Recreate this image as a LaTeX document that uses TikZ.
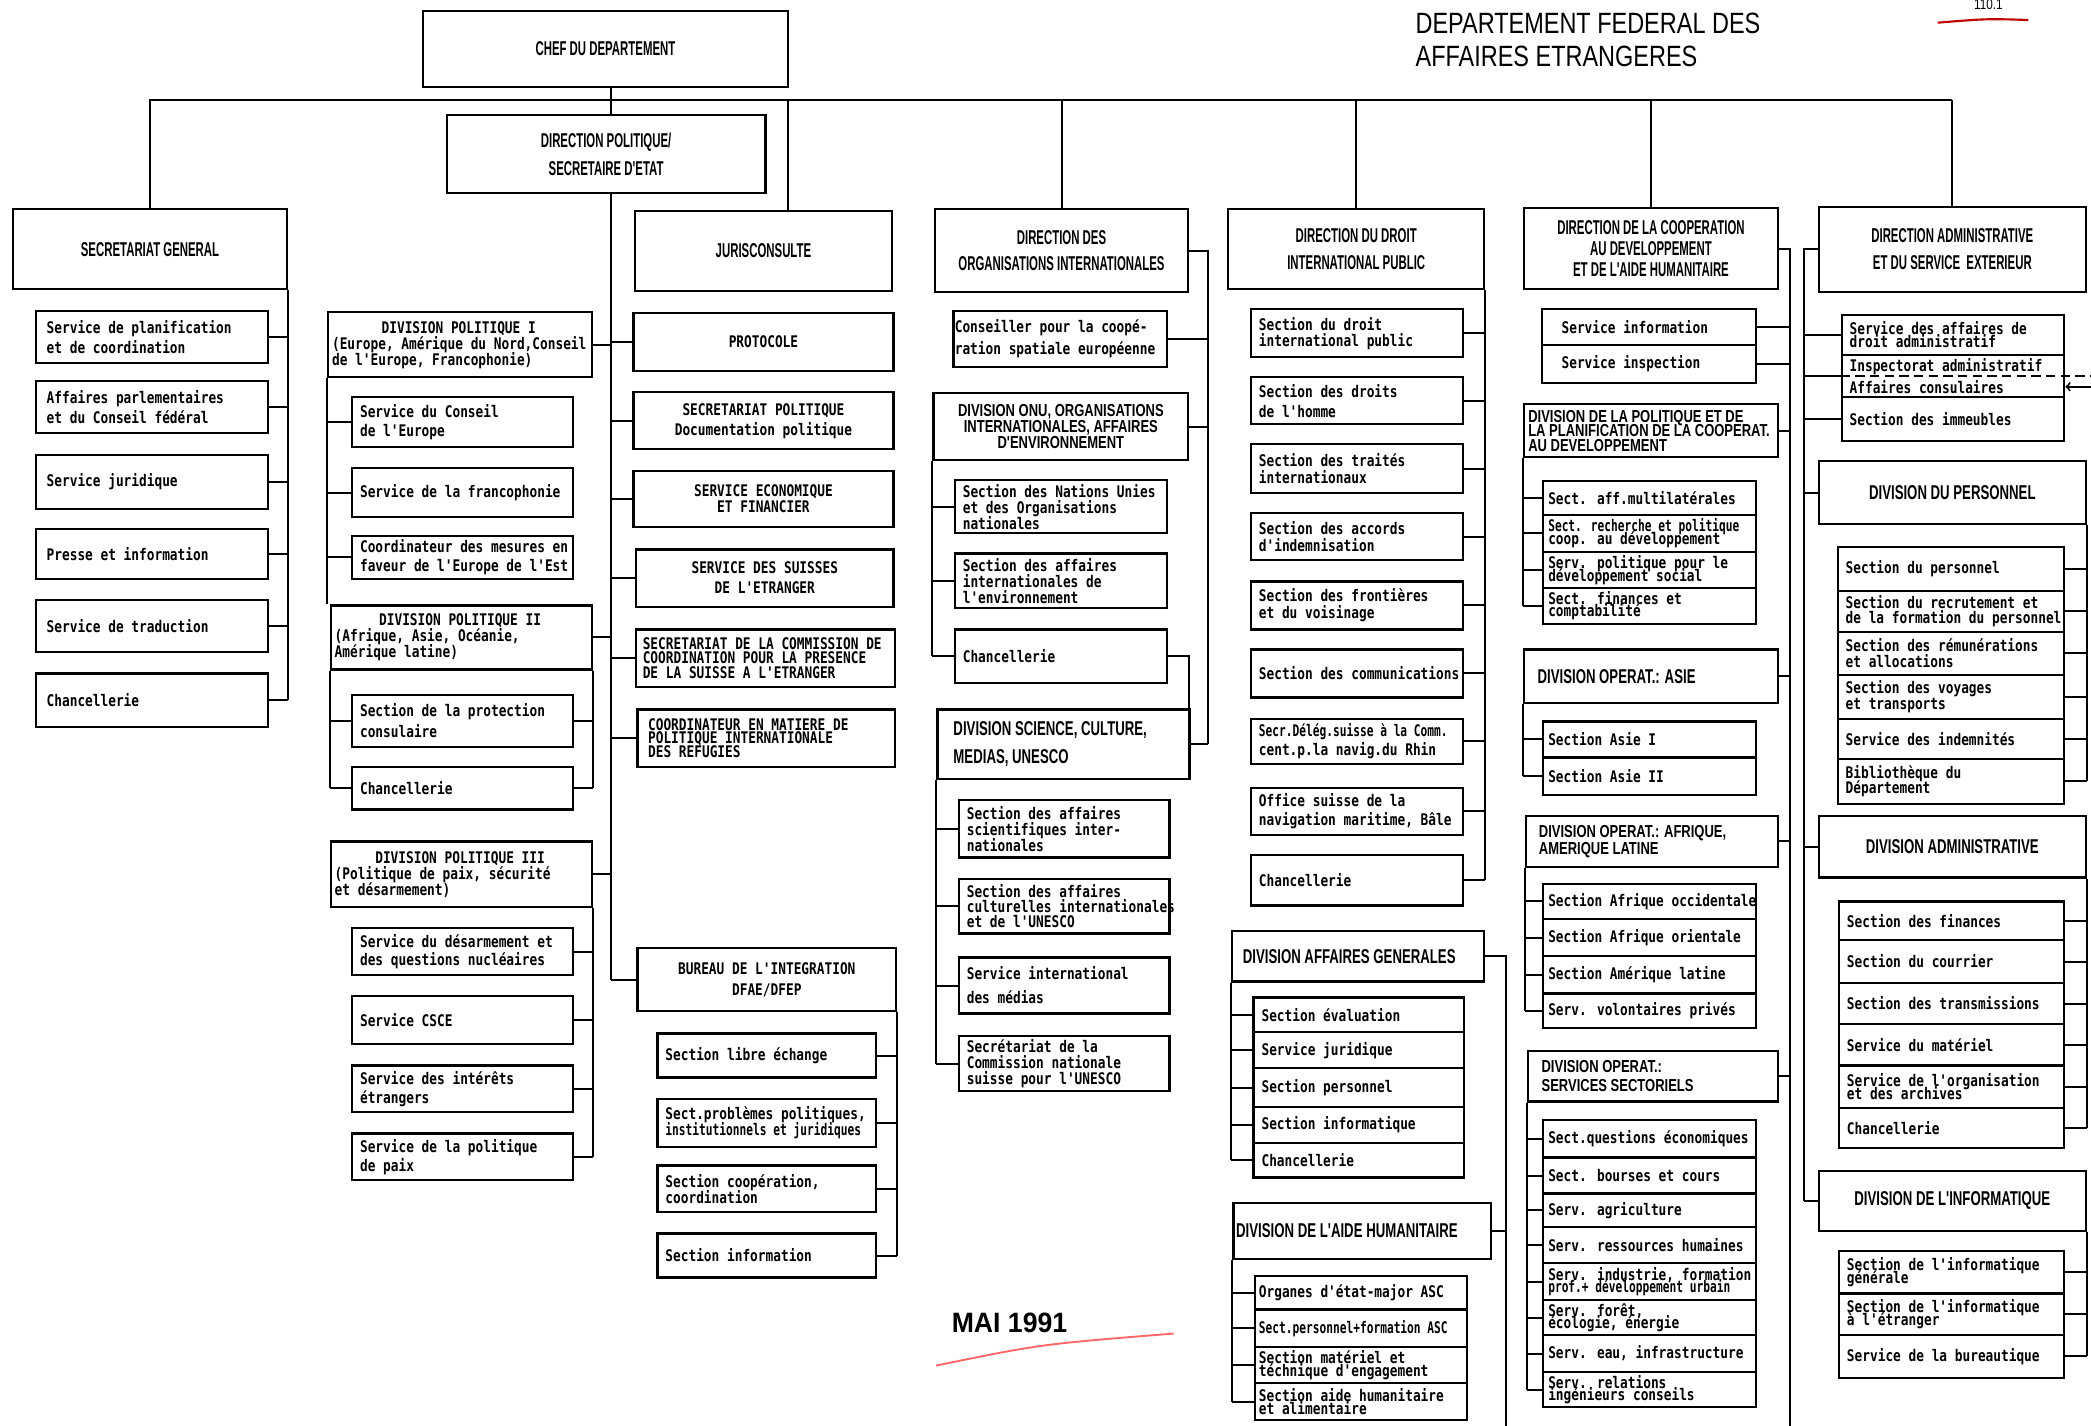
\documentclass[tikz,border=0pt]{standalone}
\usepackage{fontspec}
\newfontfamily\monof[FakeStretch=0.80]{DejaVu Sans Mono}
\newfontfamily\monon[FakeStretch=0.70]{DejaVu Sans Mono}
\newfontfamily\capsf[FakeStretch=0.57]{Liberation Sans}
\newfontfamily\divf[FakeStretch=0.66]{Liberation Sans}
\newfontfamily\capsw[FakeStretch=0.75]{Liberation Sans}
\newfontfamily\titlef[FakeStretch=0.80]{Liberation Sans}
\newfontfamily\datef[FakeStretch=0.95]{Liberation Sans}
\tikzset{
  unit/.style={draw, line width=1.6pt, rectangle, inner sep=0pt, lft, mono},
  lft/.code={\def\bxal{l}\def\bxset{\raggedright}\def\bxpre{\hspace*{6pt}}},
  ctr/.code={\def\bxal{c}\def\bxset{\centering}\def\bxpre{}},
  lpad/.code={\def\bxpre{\hspace*{#1pt}}},
  mono/.style={font=\monof\bfseries\fontsize{12}{#1}\selectfont},
  mono/.default=14,
  caps/.style={font=\capsf\bfseries\fontsize{15}{#1}\selectfont},
  caps/.default=20,
  divh/.style={font=\divf\bfseries\fontsize{15}{#1}\selectfont},
  divh/.default=20,
  capsm/.style={font=\capsw\bfseries\fontsize{13}{#1}\selectfont},
  capsm/.default=11,
  link/.style={line width=1.5pt},
}
\newcommand\boxtext[1]{\makebox[\bw pt][\bxal]{\bxpre\parbox[c]{330pt}{\bxset\lineskiplimit=-30pt #1}}}
\newcommand\ctrline[1]{\makebox[\dimexpr\bw pt-8pt\relax]{#1}}
\newcommand\bx[7][]{%
  \pgfmathsetmacro\bw{#5-#3}\pgfmathsetmacro\bh{#6-#4}%
  \node[unit,#1,minimum width=\bw pt,minimum height=\bh pt] (#2) at ({(#3+#5)/2},{(#4+#6)/2}) {\boxtext{#7}};}

\begin{document}
\begin{tikzpicture}[x=1pt,y=-1pt]
  \useasboundingbox[fill=white] (0,0) rectangle (1568,1069);
  \node[font=\titlef\fontsize{22}{25}\selectfont, anchor=west, align=left] (title) at (1058,30) {DEPARTEMENT FEDERAL DES\\AFFAIRES ETRANGERES};
  \node[font=\titlef\fontsize{11}{11}\selectfont] (folio) at (1491,3) {110.1};
  \node[font=\datef\bfseries\fontsize{21}{24}\selectfont] (date) at (757,992) {MAI 1991};
  \draw[red!75!black, line width=1.6pt] (1453,17) .. controls (1490,14) .. (1521,15);
  \draw[red!60, line width=1.4pt] (702,1024) .. controls (780,1008) .. (880,1000);

  \bx[caps,ctr]{chef}{317}{8}{591}{65}{CHEF DU DEPARTEMENT}
  \bx[caps=21,ctr]{dp}{335}{86}{574}{145}{DIRECTION POLITIQUE/\\SECRETAIRE D'ETAT}
  \bx[caps,ctr]{sg}{10}{157}{215}{217}{SECRETARIAT GENERAL}
  \bx[caps,ctr]{juris}{476}{158}{669}{218}{JURISCONSULTE}
  \bx[caps,ctr]{org}{701}{157}{891}{219}{DIRECTION DES\\ORGANISATIONS INTERNATIONALES}
  \bx[caps,ctr]{droit}{921}{157}{1113}{217}{DIRECTION DU DROIT\\INTERNATIONAL PUBLIC}
  \bx[caps=16,ctr]{coop}{1143}{156}{1333}{217}{DIRECTION DE LA COOPERATION\\AU DEVELOPPEMENT\\ET DE L'AIDE HUMANITAIRE}
  \bx[caps,ctr]{admin}{1364}{155}{1564}{219}{DIRECTION ADMINISTRATIVE\\ET DU SERVICE\ \ EXTERIEUR}

  \bx[lpad=8,mono=15]{sg1}{27}{233}{201}{272}{Service de planification\\et de coordination}
  \bx[lpad=8,mono=15]{sg2}{27}{286}{201}{325}{Affaires parlementaires\\et du Conseil fédéral}
  \bx[lpad=8]{sg3}{27}{341}{201}{382}{Service juridique}
  \bx[lpad=8]{sg4}{27}{397}{201}{434}{Presse et information}
  \bx[lpad=8]{sg5}{27}{450}{201}{489}{Service de traduction}
  \bx[lpad=8]{sg6}{27}{505}{201}{545}{Chancellerie}

  \bx[mono=12,lpad=3]{dp1}{246}{234}{444}{283}{\ctrline{DIVISION POLITIQUE I}\\(Europe, Amérique du Nord,Conseil\\de l'Europe, Francophonie)}
  \bx{dp1a}{264}{298}{430}{335}{Service du Conseil\\de l'Europe}
  \bx{dp1b}{264}{351}{430}{388}{Service de la francophonie}
  \bx{dp1c}{264}{402}{430}{434}{Coordinateur des mesures en\\faveur de l'Europe de l'Est}
  \bx[mono=12,lpad=3]{dp2}{248}{454}{444}{502}{\ctrline{DIVISION POLITIQUE II}\\(Afrique, Asie, Océanie,\\Amérique latine)}
  \bx[mono=16]{dp2a}{264}{521}{430}{560}{Section de la protection\\consulaire}
  \bx{dp2b}{264}{575}{430}{607}{Chancellerie}
  \bx[mono=12,lpad=3]{dp3}{248}{631}{444}{680}{\ctrline{DIVISION POLITIQUE III}\\(Politique de paix, sécurité\\et désarmement)}
  \bx{dp3a}{264}{696}{430}{731}{Service du désarmement et\\des questions nucléaires}
  \bx{dp3b}{264}{747}{430}{783}{Service CSCE}
  \bx{dp3c}{264}{799}{430}{834}{Service des intérêts\\étrangers}
  \bx{dp3d}{264}{850}{430}{885}{Service de la politique\\de paix}

  \bx[ctr]{proto}{475}{235}{670}{278}{PROTOCOLE}
  \bx[ctr,mono=15]{secpol}{475}{294}{670}{337}{SECRETARIAT POLITIQUE\\Documentation politique}
  \bx[ctr,mono=12]{seco}{475}{353}{670}{395}{SERVICE ECONOMIQUE\\ET FINANCIER}
  \bx[ctr,mono=15]{suisses}{477}{412}{670}{455}{SERVICE DES SUISSES\\DE L'ETRANGER}
  \bx[mono=11,lpad=5]{comm}{477}{472}{671}{515}{SECRETARIAT DE LA COMMISSION DE\\COORDINATION POUR LA PRESENCE\\DE LA SUISSE A L'ETRANGER}
  \bx[mono=10,lpad=8]{refug}{478}{532}{671}{575}{COORDINATEUR EN MATIERE DE\\POLITIQUE INTERNATIONALE\\DES REFUGIES}
  \bx[ctr,mono=16]{bureau}{478}{711}{672}{758}{BUREAU DE L'INTEGRATION\\DFAE/DFEP}
  \bx{bu1}{493}{775}{657}{808}{Section libre échange}
  \bx[mono=12]{bu2}{493}{824}{657}{860}{Sect.problèmes politiques,\\{\monon institutionnels et juridiques}}
  \bx[mono=12]{bu3}{493}{874}{657}{909}{Section coopération,\\coordination}
  \bx{bu4}{493}{925}{657}{958}{Section information}

  \bx[lpad=1,mono=17]{cons}{715}{233}{875}{275}{Conseiller pour la coopé-\\ration spatiale européenne}
  \bx[capsm=12,ctr]{onu}{700}{295}{891}{345}{DIVISION ONU, ORGANISATIONS\\INTERNATIONALES, AFFAIRES\\D'ENVIRONNEMENT}
  \bx[mono=12]{onu1}{716}{360}{875}{400}{Section des Nations Unies\\et des Organisations\\nationales}
  \bx[mono=12]{onu2}{716}{415}{875}{456}{Section des affaires\\internationales de\\l'environnement}
  \bx{onu3}{716}{472}{875}{512}{Chancellerie}
  \bx[divh=21,lpad=12]{sci}{703}{532}{892}{584}{DIVISION SCIENCE, CULTURE,\\MEDIAS, UNESCO}
  \bx[mono=12]{sci1}{719}{600}{877}{643}{Section des affaires\\scientifiques inter-\\nationales}
  \bx[mono=11]{sci2}{719}{659}{877}{700}{Section des affaires\\culturelles internationales\\et de l'UNESCO}
  \bx[mono=18]{sci3}{719}{718}{877}{760}{Service international\\des médias}
  \bx[mono=12]{sci4}{719}{777}{877}{818}{Secrétariat de la\\Commission nationale\\suisse pour l'UNESCO}

  \bx[mono=12]{dr1}{938}{232}{1097}{268}{Section du droit\\international public}
  \bx[mono=15]{dr2}{938}{283}{1097}{318}{Section des droits\\de l'homme}
  \bx[mono=13]{dr3}{938}{333}{1097}{370}{Section des traités\\internationaux}
  \bx[mono=13]{dr4}{938}{385}{1097}{420}{Section des accords\\d'indemnisation}
  \bx[mono=13]{dr5}{938}{436}{1097}{472}{Section des frontières\\et du voisinage}
  \bx{dr6}{938}{487}{1097}{523}{Section des communications}
  \bx{dr7}{938}{539}{1097}{573}{{\monon Secr.Délég.suisse à la Comm.}\\cent.p.la navig.du Rhin}
  \bx{dr8}{938}{591}{1097}{626}{Office suisse de la\\navigation maritime, Bâle}
  \bx{dr9}{938}{641}{1097}{679}{Chancellerie}

  \bx[divh,lpad=8]{dag}{924}{698}{1113}{736}{DIVISION AFFAIRES GENERALES}
  \bx{dg1}{940}{748}{1098}{774}{Section évaluation}
  \bx{dg2}{940}{774}{1098}{801}{Service juridique}
  \bx{dg3}{940}{801}{1098}{830}{Section personnel}
  \bx{dg4}{940}{830}{1098}{857}{Section informatique}
  \bx{dg5}{940}{857}{1098}{883}{Chancellerie}
  \bx[divh,lpad=2]{dah}{925}{902}{1118}{944}{DIVISION DE L'AIDE HUMANITAIRE}
  \bx[lpad=3]{dh1}{941}{957}{1100}{982}{Organes d'état-major ASC}
  \bx[lpad=3]{dh2}{941}{982}{1100}{1010}{{\monon Sect.personnel+formation ASC}}
  \bx[lpad=3,mono=10]{dh3}{941}{1010}{1100}{1037}{Section matériel et\\téchnique d'engagement}
  \bx[lpad=3,mono=10]{dh4}{941}{1037}{1100}{1065}{Section aide humanitaire\\et alimentaire}

  \bx[lpad=15]{ci1}{1156}{232}{1317}{259}{Service information}
  \bx[lpad=15]{ci2}{1156}{259}{1317}{287}{Service inspection}
  \bx[capsm=11,lpad=3]{plan}{1143}{303}{1333}{343}{DIVISION DE LA POLITIQUE ET DE\\LA PLANIFICATION DE LA COOPERAT.\\AU DEVELOPPEMENT}
  \bx[lpad=4]{pl1}{1157}{361}{1317}{386}{Sect. aff.multilatérales}
  \bx[lpad=4,mono=10]{pl2}{1157}{386}{1317}{414}{{\monon Sect. recherche et politique}\\coop. au développement}
  \bx[lpad=4,mono=10]{pl3}{1157}{414}{1317}{441}{Serv. politique pour le\\développement social}
  \bx[lpad=4,mono=9]{pl4}{1157}{441}{1317}{468}{Sect. finances et\\comptabilité}
  \bx[divh,lpad=10]{asie}{1143}{487}{1333}{527}{DIVISION OPERAT.: ASIE}
  \bx[lpad=4]{as1}{1157}{541}{1317}{568}{Section Asie I}
  \bx[lpad=4]{as2}{1157}{568}{1317}{596}{Section Asie II}
  \bx[capsm=13,lpad=10]{afr}{1144}{612}{1333}{650}{DIVISION OPERAT.: AFRIQUE,\\AMERIQUE LATINE}
  \bx[lpad=4]{af1}{1157}{663}{1317}{689}{Section Afrique occidentale}
  \bx[lpad=4]{af2}{1157}{689}{1317}{717}{Section Afrique orientale}
  \bx[lpad=4]{af3}{1157}{717}{1317}{745}{Section Amérique latine}
  \bx[lpad=4]{af4}{1157}{745}{1317}{771}{Serv. volontaires privés}
  \bx[capsm=14,lpad=10]{sect}{1146}{788}{1333}{826}{DIVISION OPERAT.:\\SERVICES SECTORIELS}
  \bx[lpad=4]{se1}{1157}{840}{1317}{868}{Sect.questions économiques}
  \bx[lpad=4]{se2}{1157}{868}{1317}{895}{Sect. bourses et cours}
  \bx[lpad=4]{se3}{1157}{895}{1317}{920}{Serv. agriculture}
  \bx[lpad=4]{se4}{1157}{920}{1317}{947}{Serv. ressources humaines}
  \bx[lpad=4,mono=9]{se5}{1157}{947}{1317}{975}{Serv. industrie, formation\\{\monon prof.+ développement urbain}}
  \bx[lpad=4,mono=9]{se6}{1157}{975}{1317}{1001}{Serv. forêt,\\écologie, énergie}
  \bx[lpad=4]{se7}{1157}{1001}{1317}{1029}{Serv. eau, infrastructure}
  \bx[lpad=4,mono=9]{se8}{1157}{1029}{1317}{1055}{Serv. relations\\ingénieurs conseils}

  \bx[mono=10]{ad1}{1381}{236}{1548}{266}{Service des affaires de\\droit administratif}
  \bx[mono=16]{ad2}{1381}{266}{1548}{298}{Inspectorat administratif\\Affaires consulaires}
  \bx{ad3}{1381}{298}{1548}{331}{Section des immeubles}
  \bx[divh,ctr]{pers}{1364}{346}{1564}{393}{DIVISION DU PERSONNEL}
  \bx{pe1}{1378}{410}{1548}{443}{Section du personnel}
  \bx[mono=11]{pe2}{1378}{443}{1548}{474}{Section du recrutement et\\de la formation du personnel}
  \bx[mono=12]{pe3}{1378}{474}{1548}{506}{Section des rémunérations\\et allocations}
  \bx[mono=12]{pe4}{1378}{506}{1548}{539}{Section des voyages\\et transports}
  \bx{pe5}{1378}{539}{1548}{569}{Service des indemnités}
  \bx[mono=11]{pe6}{1378}{569}{1548}{603}{Bibliothèque du\\Département}
  \bx[divh,ctr]{dadm}{1364}{612}{1564}{658}{DIVISION ADMINISTRATIVE}
  \bx{da1}{1379}{676}{1548}{705}{Section des finances}
  \bx{da2}{1379}{705}{1548}{737}{Section du courrier}
  \bx{da3}{1379}{737}{1548}{768}{Section des transmissions}
  \bx{da4}{1379}{768}{1548}{799}{Service du matériel}
  \bx[mono=10]{da5}{1379}{799}{1548}{831}{Service de l'organisation\\et des archives}
  \bx{da6}{1379}{831}{1548}{861}{Chancellerie}
  \bx[divh,ctr]{dinf}{1364}{878}{1564}{923}{DIVISION DE L'INFORMATIQUE}
  \bx[mono=10]{di1}{1379}{938}{1548}{970}{Section de l'informatique\\générale}
  \bx[mono=10]{di2}{1379}{970}{1548}{1001}{Section de l'informatique\\à l'étranger}
  \bx{di3}{1379}{1001}{1548}{1033}{Service de la bureautique}

  \coordinate (mainL) at (112,75);
  \coordinate (mainR) at (1464,75);
  \coordinate (dpx) at (458,75);
  \coordinate (jx) at (591,75);
  \coordinate (ox) at (906,0);
  \coordinate (dgx) at (1129,1069);
  \coordinate (cpx) at (1342,1069);
  \coordinate (ax) at (1353,0);
  \coordinate (arr) at (1568,290);

  \begin{scope}[link]
    \draw (mainL) -- (mainR);
    \draw (sg.north) -- (sg.north |- mainL);
    \draw (chef.south -| dpx) -- (dp.north -| dpx);
    \draw (jx) -- (jx |- juris.north);
    \foreach \n in {org,droit,coop,admin} \draw (\n.north) -- (\n.north |- mainL);

    \draw (sg.south east) -- (sg.south east |- sg6.east);
    \foreach \i in {1,...,6} \draw (sg\i.east) -- (sg\i.east -| sg.south east);

    \draw (dp.south -| dpx) -- (bureau.west -| dpx);
    \foreach \n in {proto,secpol,seco,suisses,comm,refug,bureau} \draw (\n.west) -- (\n.west -| dpx);
    \foreach \n in {dp1,dp2,dp3} \draw (\n.east) -- (\n.east -| dpx);
    \draw (dp1.south west) -- (dp1.south west |- dp2.north);
    \foreach \n in {dp1a,dp1b,dp1c} \draw (\n.west) -- (\n.west -| dp1.south west);
    \draw (dp2.south west) -- (dp2.south west |- dp2b.west);
    \draw (dp2.south east) -- (dp2.south east |- dp2b.east);
    \foreach \n in {dp2a,dp2b} \draw (\n.west -| dp2.south west) -- (\n.west) (\n.east) -- (\n.east -| dp2.south east);
    \draw (dp3.south east) -- (dp3.south east |- dp3d.east);
    \foreach \n in {dp3a,dp3b,dp3c,dp3d} \draw (\n.east) -- (\n.east -| dp3.south east);
    \draw (bureau.south east) -- (bureau.south east |- bu4.east);
    \foreach \i in {1,...,4} \draw (bu\i.east) -- (bu\i.east -| bureau.south east);

    \draw (org.east) -- (org.east -| ox) -- (sci.east -| ox);
    \foreach \n in {cons,onu,sci} \draw (\n.east) -- (\n.east -| ox);
    \draw (onu.south west) -- (onu.south west |- onu3.west);
    \foreach \i in {1,2,3} \draw (onu\i.west) -- (onu\i.west -| onu.south west);
    \draw (onu3.east) -- (onu3.east -| onu.east) -- (sci.north -| onu.east);
    \draw (sci.south west) -- (sci.south west |- sci4.west);
    \foreach \i in {1,...,4} \draw (sci\i.west) -- (sci\i.west -| sci.south west);

    \draw (droit.south east) -- (droit.south east |- dr9.east);
    \foreach \i in {1,...,9} \draw (dr\i.east) -- (dr\i.east -| droit.south east);
    \draw (dag.east) -- (dag.east -| dgx) -- (dgx);
    \draw (dah.east) -- (dah.east -| dgx);
    \draw (dag.south west) -- (dag.south west |- dg5.west);
    \foreach \i in {1,...,5} \draw (dg\i.west) -- (dg\i.west -| dag.south west);
    \draw (dah.south west) -- (dah.south west |- dh4.west);
    \foreach \i in {1,...,4} \draw (dh\i.west) -- (dh\i.west -| dah.south west);

    \draw (coop.east) -- (coop.east -| cpx) -- (cpx);
    \foreach \n in {ci1,ci2,plan,asie,afr,sect} \draw (\n.east) -- (\n.east -| cpx);
    \draw (plan.south west) -- (plan.south west |- pl4.west);
    \foreach \i in {1,...,4} \draw (pl\i.west) -- (pl\i.west -| plan.south west);
    \draw (asie.south west) -- (asie.south west |- as2.west);
    \foreach \i in {1,2} \draw (as\i.west) -- (as\i.west -| asie.south west);
    \draw (afr.south west) -- (afr.south west |- af4.west);
    \foreach \i in {1,...,4} \draw (af\i.west) -- (af\i.west -| afr.south west);
    \draw (sect.south west) -- (sect.south west |- se8.west);
    \foreach \i in {1,...,8} \draw (se\i.west) -- (se\i.west -| sect.south west);

    \draw (admin.west) -- (admin.west -| ax) -- (dinf.west -| ax);
    \foreach \n in {ad1,ad2,ad3,pers,dadm,dinf} \draw (\n.west) -- (\n.west -| ax);
    \draw (pers.south east) -- (pers.south east |- pe6.east);
    \foreach \i in {1,...,6} \draw (pe\i.east) -- (pe\i.east -| pers.south east);
    \draw (dadm.south east) -- (dadm.south east |- da6.east);
    \foreach \i in {1,...,6} \draw (da\i.east) -- (da\i.east -| dadm.south east);
    \draw (dinf.south east) -- (dinf.south east |- di3.east);
    \foreach \i in {1,2,3} \draw (di\i.east) -- (di\i.east -| dinf.south east);
    \draw[dash pattern=on 7pt off 4pt] (ad2.west) -- (ad2.east) -- (ad2.east -| arr);
    \draw[->] (arr) -- (arr -| ad2.east);
  \end{scope}
\end{tikzpicture}
\end{document}
